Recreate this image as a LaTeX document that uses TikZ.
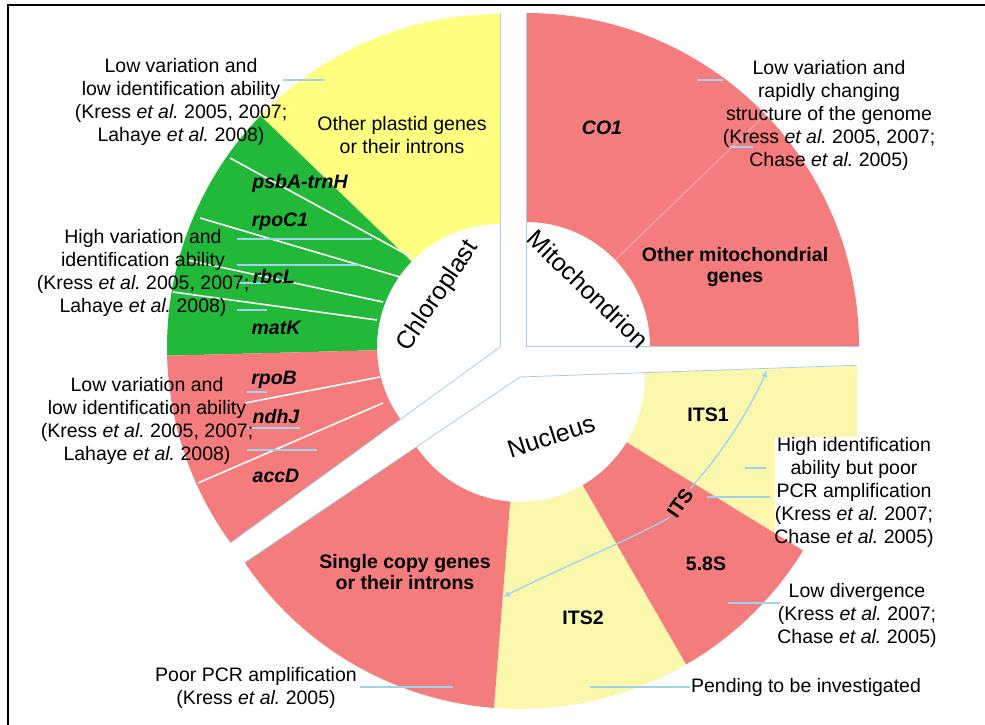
\documentclass[tikz,border=0pt]{standalone}
\usepackage{fontspec}
\setmainfont{Liberation Sans}
\usetikzlibrary{calc,arrows.meta}
\definecolor{cred}{HTML}{F47C7C}
\definecolor{cgreen}{HTML}{22B83A}
\definecolor{cyel}{HTML}{FFFF80}
\definecolor{cpale}{HTML}{FBF8AE}
\definecolor{lblue}{HTML}{9FD3EE}
\definecolor{gedge}{HTML}{A9CFE2}
\newcommand{\ringsec}[6]{%
  \fill[#6] ($(#1)+(#4:#3)$) arc[start angle=#4, end angle=#5, radius=#3]
    -- ($(#1)+(#5:#2)$) arc[start angle=#5, end angle=#4, radius=#2] -- cycle;}
\newcommand{\leader}[3]{%
  \coordinate (#1a) at (#2); \coordinate (#1b) at (#3);
  \draw[leadline] (#1a) -- (#1b);}
\newcommand{\etal}{\textit{et al.}\ }
\tikzset{
  lab/.style={align=center, inner sep=0pt, font=\fontsize{19.5}{23}\selectfont},
  bl/.style={align=center, inner sep=0pt, font=\fontsize{19.5}{21}\selectfont\bfseries},
  gene/.style={inner sep=0pt, font=\fontsize{19.5}{23}\selectfont\bfseries\itshape},
  region/.style={inner sep=1pt, font=\fontsize{25}{28}\selectfont},
  leadline/.style={lblue, line width=1.1pt},
  sepline/.style={white, line width=1.6pt},
  edgeline/.style={gedge, line width=0.8pt},
}
\begin{document}
\begin{tikzpicture}[x=1pt, y=-1pt]
\useasboundingbox (0,0) rectangle (985,725);
\fill[white] (0,0) rectangle (985,725);
% centres
\coordinate (C) at (500,347);
\coordinate (M) at (526,346);
\coordinate (N) at (520,377);
% chloroplast
\ringsec{C}{123}{333}{-136}{-90}{cyel}
\ringsec{C}{123}{333}{-181.5}{-136}{cgreen}
\ringsec{C}{123}{333}{-216}{-181.5}{cred}
% mitochondrion
\ringsec{M}{124}{333}{-90}{0}{cred}
\draw[white!45!cred, line width=0.8pt] ($(M)+(-44:124)$) -- ($(M)+(-44:333)$);
% nucleus
\fill[cpale] ($(N)+(-2:125)$) -- (857,366) -- (857,437) -- (775,437) -- (775,533)
   -- ($(N)+(31.5:125)$) arc[start angle=31.5, end angle=-2, radius=125] -- cycle;
\ringsec{N}{125}{332}{31.5}{60}{cred}
\ringsec{N}{125}{332}{60}{94.5}{cpale}
\ringsec{N}{125}{332}{94.5}{146}{cred}
% separating lines in chloroplast
\draw[sepline] (230,158) -- (413,258);
\draw[sepline] (200,218) -- (400,277);
\draw[sepline] (187,260) -- (383,302);
\draw[sepline] (173,292) -- (377,320);
\draw[sepline] (380,377) -- (245,403);
\draw[sepline] (383,403) -- (198,483);
% faint sector edges
\draw[edgeline] (C) -- ($(C)+(-90:334)$);
\draw[edgeline] (C) -- ($(C)+(-216:333)$);
\draw[edgeline] (M) -- ($(M)+(-90:333)$);
\draw[edgeline] (M) -- ($(M)+(0:333)$);
\draw[edgeline] (N) -- ($(N)+(-2:337)$);
\draw[edgeline] (N) -- ($(N)+(146:332)$);
% frame
\draw[line width=1.5pt] (8,725) -- (8,5) -- (985,5);
% leader lines
\leader{la}{283,80}{325,80}
\leader{lb}{237,239}{372,239}
\leader{lc}{237,265}{360,265}
\leader{ld}{237,283}{267,283}
\leader{le}{237,310}{267,310}
\leader{lf}{247,392}{267,392}
\leader{lg}{247,428}{300,428}
\leader{lh}{247,450}{317,450}
\leader{li}{697,80}{723,80}
\leader{lj}{730,147}{753,147}
\leader{lk}{745,468}{766,468}
\leader{ll}{707,497}{770,497}
\leader{lm}{728,603}{780,603}
\leader{ln}{590,687}{690,687}
\leader{lo}{360,687}{453,687}
% region labels
\node[region, rotate=56] (chl) at (438,296) {Chloroplast};
\node[region, rotate=-44] (mit) at (588,289) {Mitochondrion};
\node[region, rotate=18] (nuc) at (551,436) {Nucleus};
% segment labels
\node[lab] (s1) at (402,135) {Other plastid genes\\or their introns};
\node[gene] (g1) at (300,183) {psbA-trnH};
\node[gene] (g2) at (280,222) {rpoC1};
\node[gene] (g3) at (274,277) {rbcL};
\node[gene] (g4) at (276,328) {matK};
\node[gene] (g5) at (274,380) {rpoB};
\node[gene] (g6) at (276,417) {ndhJ};
\node[gene] (g7) at (276,476) {accD};
\node[gene] (g8) at (602,128) {CO1};
\node[bl] (s2) at (735,267) {Other mitochondrial\\genes};
\node[bl] (s3) at (405,572) {Single copy genes\\or their introns};
\node[bl] (its1) at (708,415) {ITS1};
\node[bl] (s58) at (706,564) {5.8S};
\node[bl] (its2) at (583,618) {ITS2};
% ITS double arrow
\node[bl, rotate=55, inner sep=2pt] (its) at (680,503) {ITS};
\coordinate (itsTop) at (767,370);
\coordinate (itsEnd) at (503,597);
\draw[lblue, line width=1.3pt, -{Latex[length=7pt,width=6pt]}] (its.east) .. controls (725,450) and (752,405) .. (itsTop);
\draw[lblue, line width=1.3pt, -{Latex[length=7pt,width=6pt]}] (its.west) .. controls (630,540) and (560,568) .. (itsEnd);
% annotation texts
\node[lab] (t1) at (181,102) {Low variation and\\low identification ability\\(Kress \etal 2005, 2007;\\Lahaye \etal 2008)};
\node[lab] (t2) at (143,273) {High variation and\\identification ability\\(Kress \etal 2005, 2007;\\Lahaye \etal 2008)};
\node[lab] (t3) at (147,421) {Low variation and\\low identification ability\\(Kress \etal 2005, 2007;\\Lahaye \etal 2008)};
\node[lab] (t4) at (829,115) {Low variation and\\rapidly changing\\structure of the genome\\(Kress \etal 2005, 2007;\\Chase \etal 2005)};
\node[lab] (t5) at (854,492) {High identification\\ability but poor\\PCR amplification\\(Kress \etal 2007;\\Chase \etal 2005)};
\node[lab] (t6) at (857,615) {Low divergence\\(Kress \etal 2007;\\Chase \etal 2005)};
\node[lab] (t7) at (806,687) {Pending to be investigated};
\node[lab] (t8) at (256,688) {Poor PCR amplification\\(Kress \etal 2005)};
\end{tikzpicture}
\end{document}
